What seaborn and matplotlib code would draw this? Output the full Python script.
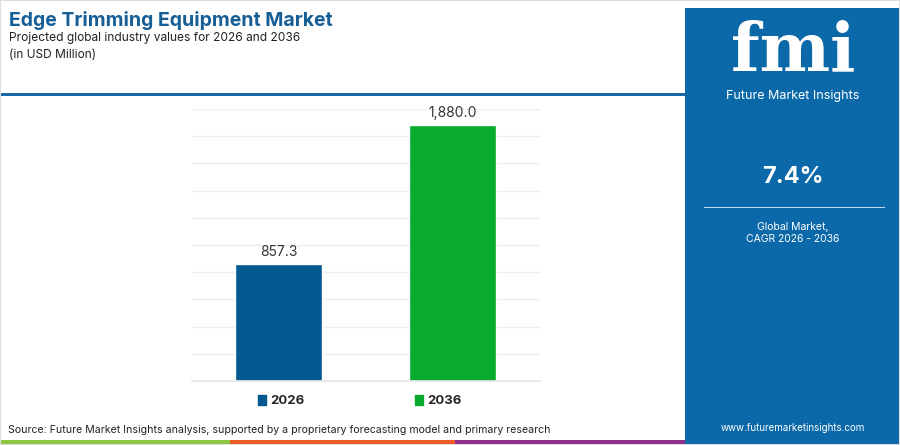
import matplotlib
matplotlib.use("Agg")
import matplotlib.pyplot as plt
import seaborn as sns
import pandas as pd
from matplotlib.patches import Rectangle, Patch

# Data
years = ["2026", "2036"]
values = [857.3, 1880.0]
bar_colors = ["#03598F", "#08AB2C"]
cagr = "7.4%"

df = pd.DataFrame({"year": years, "value": values})

sns.set_theme(style="white")
plt.rcParams["font.family"] = ["Inter", "DejaVu Sans"]

fig = plt.figure(figsize=(9, 4.45), dpi=100)
ax = fig.add_axes([0.2133, 0.1438, 0.3867, 0.611])

sns.barplot(data=df, x="year", y="value", hue="year", palette=bar_colors,
            width=0.5, legend=False, ax=ax, saturation=1)

ax.set_ylim(0, 2000)
ax.set_xlim(-0.5, 1.5)
ax.set_yticks(range(0, 2001, 200))
ax.yaxis.grid(True, color="#eeeeee", linewidth=1)
ax.set_axisbelow(True)
ax.tick_params(left=False, bottom=False, labelleft=False, labelbottom=False)
ax.set_xlabel("")
ax.set_ylabel("")
for s in ["top", "right", "left"]:
    ax.spines[s].set_visible(False)
ax.spines["bottom"].set_color("#e6e6e6")

for c in ax.containers:
    ax.bar_label(c, labels=[f"{v:,.1f}" for v in c.datavalues], padding=4,
                 fontsize=10, color="#333333")

# legend below the plot
handles = [Patch(color=col, label=y) for y, col in zip(years, bar_colors)]
fig.legend(handles=handles, loc="center", bbox_to_anchor=(0.4, 1 - 401 / 445),
           ncol=2, frameon=False, handlelength=0.6, handleheight=0.8,
           handletextpad=0.3, columnspacing=8.4,
           prop={"weight": "bold", "size": 9.5})

# header
fig.text(9 / 900, 1 - 21 / 445, "Edge Trimming Equipment Market", fontsize=14,
         fontweight="bold", color="#155E96", va="center", ha="left")
fig.text(9 / 900, 1 - 38 / 445, "Projected global industry values for 2026 and 2036",
         fontsize=8.6, color="#222222", va="center", ha="left")
fig.text(9 / 900, 1 - 55 / 445, "(in USD Million)", fontsize=8.6,
         color="#222222", va="center", ha="left")
fig.add_artist(Rectangle((0, 1 - 96 / 445), 685 / 900, 3 / 445,
                         transform=fig.transFigure, color="#1A6AAA", lw=0))

# source + bottom stripe
fig.text(8 / 900, 1 - 430 / 445,
         "Source: Future Market Insights analysis, supported by a proprietary forecasting model and primary research",
         fontsize=7.6, color="#222222", va="center", ha="left")
for x0, x1, col in [(0, 230, "#8DC63F"), (230, 455, "#EE5A24"), (455, 685, "#8E2C8A")]:
    fig.add_artist(Rectangle((x0 / 900, 0), (x1 - x0) / 900, 5 / 445,
                             transform=fig.transFigure, color=col, lw=0))

# right panel
fig.add_artist(Rectangle((685 / 900, 0), 215 / 900, 1 - 8 / 445,
                         transform=fig.transFigure, color="#0C69A9", lw=0))
cx = 793 / 900
fig.text(cx, 1 - 52 / 445, "fmi", fontsize=48, fontweight="bold", color="white",
         ha="center", va="center", family=["DejaVu Serif"])
fig.text(cx, 1 - 96 / 445, "Future Market Insights", fontsize=9, color="white",
         ha="center", va="center")
fig.text(cx, 1 - 177 / 445, cagr, fontsize=17, fontweight="bold", color="white",
         ha="center", va="center")
fig.add_artist(Rectangle((704 / 900, 1 - 208 / 445), 181 / 900, 1.5 / 445,
                         transform=fig.transFigure, color="#BFD9EC", lw=0))
fig.text(cx, 1 - 227 / 445, "Global Market,", fontsize=7.5, color="white",
         ha="center", va="center")
fig.text(cx, 1 - 239 / 445, "CAGR 2026 - 2036", fontsize=7.5, color="white",
         ha="center", va="center")
fig.text(cx, 1 - 428 / 445, "www.futuremarketinsights.com", fontsize=7,
         color="white", ha="center", va="center")

# thin outer border
fig.add_artist(Rectangle((0, 0), 1, 1, transform=fig.transFigure, fill=False,
                         edgecolor="#dddddd", lw=1.5))

fig.savefig("out.png", dpi=100)
